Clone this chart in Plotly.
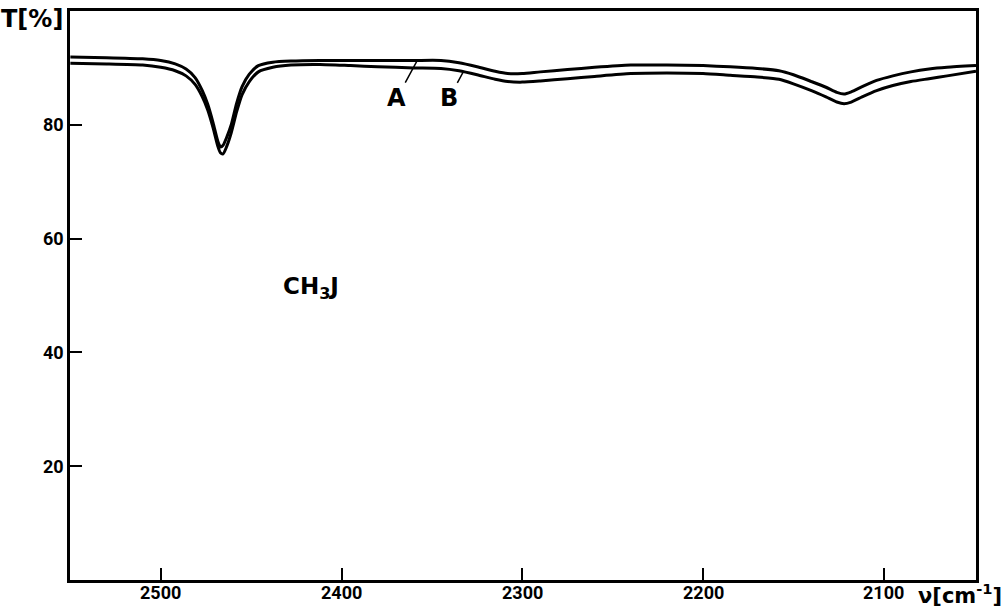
import plotly.graph_objects as go

# wavenumber grid (cm^-1)
wavenumber = [2550, 2530, 2510, 2500, 2492, 2486, 2481, 2477, 2474, 2471, 2468.5, 2467,
              2465.5, 2463.5, 2461, 2458, 2455, 2451, 2446, 2438, 2428, 2412, 2395, 2380,
              2360, 2345, 2335, 2325, 2315, 2308, 2300, 2290, 2275, 2260, 2240, 2220, 2200,
              2185, 2170, 2158, 2150, 2140, 2132, 2126, 2122, 2118, 2112, 2104, 2095, 2085,
              2075, 2065, 2049]

# transmission curve A (%)
trans_a = [91.9, 91.8, 91.6, 91.3, 90.7, 89.8, 88.3, 86.0, 83.6, 80.3, 77.2, 76.1,
           76.4, 77.8, 80.0, 83.8, 86.7, 88.9, 90.4, 91.0, 91.2, 91.3, 91.3, 91.3,
           91.3, 91.3, 90.9, 90.2, 89.4, 89.0, 89.0, 89.3, 89.7, 90.1, 90.5, 90.5, 90.4,
           90.2, 89.9, 89.5, 88.8, 87.6, 86.6, 85.7, 85.4, 85.8, 86.7, 87.8, 88.6, 89.3,
           89.8, 90.1, 90.4]

# transmission curve B (%)
trans_b = [90.8, 90.7, 90.5, 90.1, 89.5, 88.6, 87.1, 84.9, 82.6, 79.4, 76.3, 75.1,
           74.9, 76.2, 78.6, 82.3, 85.3, 87.6, 89.3, 90.1, 90.5, 90.6, 90.4, 90.2,
           90.0, 89.9, 89.5, 88.8, 88.0, 87.6, 87.5, 87.7, 88.1, 88.5, 89.0, 89.1, 89.0,
           88.7, 88.4, 88.0, 87.2, 86.0, 84.9, 84.0, 83.7, 84.0, 84.9, 86.0, 86.9, 87.6,
           88.1, 88.6, 89.4]

x_ticks = [2500, 2400, 2300, 2200, 2100]
x_tick_labels = ["2500", "2400", "2300", "2200", "2100"]
y_ticks = [20, 40, 60, 80]
y_tick_labels = ["20", "40", "60", "80"]

FONT = "Roboto, DejaVu Sans Condensed, sans-serif"
BOLD = "DejaVu Sans, Liberation Sans, Arial, sans-serif"

fig = go.Figure()
for name, ys in (("A", trans_a), ("B", trans_b)):
    fig.add_trace(go.Scatter(
        x=wavenumber, y=ys, mode="lines", name=name,
        line=dict(color="black", width=3, shape="spline", smoothing=0.6),
        showlegend=False))

tickfont = dict(family=FONT, size=18, color="black", weight="bold")

fig.update_layout(
    width=1006, height=607,
    margin=dict(l=70, r=30, t=11, b=27, autoexpand=False),
    paper_bgcolor="white", plot_bgcolor="white",
    xaxis=dict(range=[2550.2, 2049], tickvals=x_ticks, showticklabels=False,
               ticks="inside", ticklen=12, tickwidth=2, tickcolor="black",
               showline=True, linecolor="black", linewidth=2.5, mirror=True,
               showgrid=False, zeroline=False, automargin=False),
    yaxis=dict(range=[0, 100], tickvals=y_ticks, ticktext=y_tick_labels,
               ticks="inside", ticklen=12, tickwidth=2, tickcolor="black",
               showline=True, linecolor="black", linewidth=2.5, mirror=True,
               showgrid=False, zeroline=False, automargin=False,
               tickfont=tickfont),
)

# x tick labels placed tight under the axis, as in the original print
for xv, lab in zip(x_ticks, x_tick_labels):
    fig.add_annotation(x=xv, xref="x", y=0, yref="paper", text=lab, showarrow=False,
                       xanchor="center", yanchor="middle", yshift=-12, font=tickfont)

fig.add_annotation(xref="paper", yref="paper", x=-0.005, y=1.0, xanchor="right", yanchor="top",
                   text="<b>T[%]</b>", showarrow=False, yshift=8,
                   font=dict(family=BOLD, size=24, color="black"))
fig.add_annotation(xref="paper", yref="paper", x=1.0, y=0.0, xanchor="right", yanchor="middle",
                   text="<b>ν[cm<sup>-1</sup>]</b>", showarrow=False, yshift=-14, xshift=28,
                   font=dict(family=BOLD, size=21, color="black"))
fig.add_annotation(x=2417, y=51.3, text="<b>CH<sub>3</sub>J</b>", showarrow=False,
                   font=dict(family=BOLD, size=23, color="black"))
fig.add_annotation(x=2358.3, y=91.2, text="<b>A</b>", showarrow=True, arrowhead=0,
                   arrowwidth=1.5, arrowcolor="black", ax=-20, ay=37, standoff=0,
                   font=dict(family=BOLD, size=24, color="black"))
fig.add_annotation(x=2332.8, y=89.2, text="<b>B</b>", showarrow=True, arrowhead=0,
                   arrowwidth=1.5, arrowcolor="black", ax=-14, ay=26, standoff=0,
                   font=dict(family=BOLD, size=24, color="black"))

fig.write_html("out.html")
